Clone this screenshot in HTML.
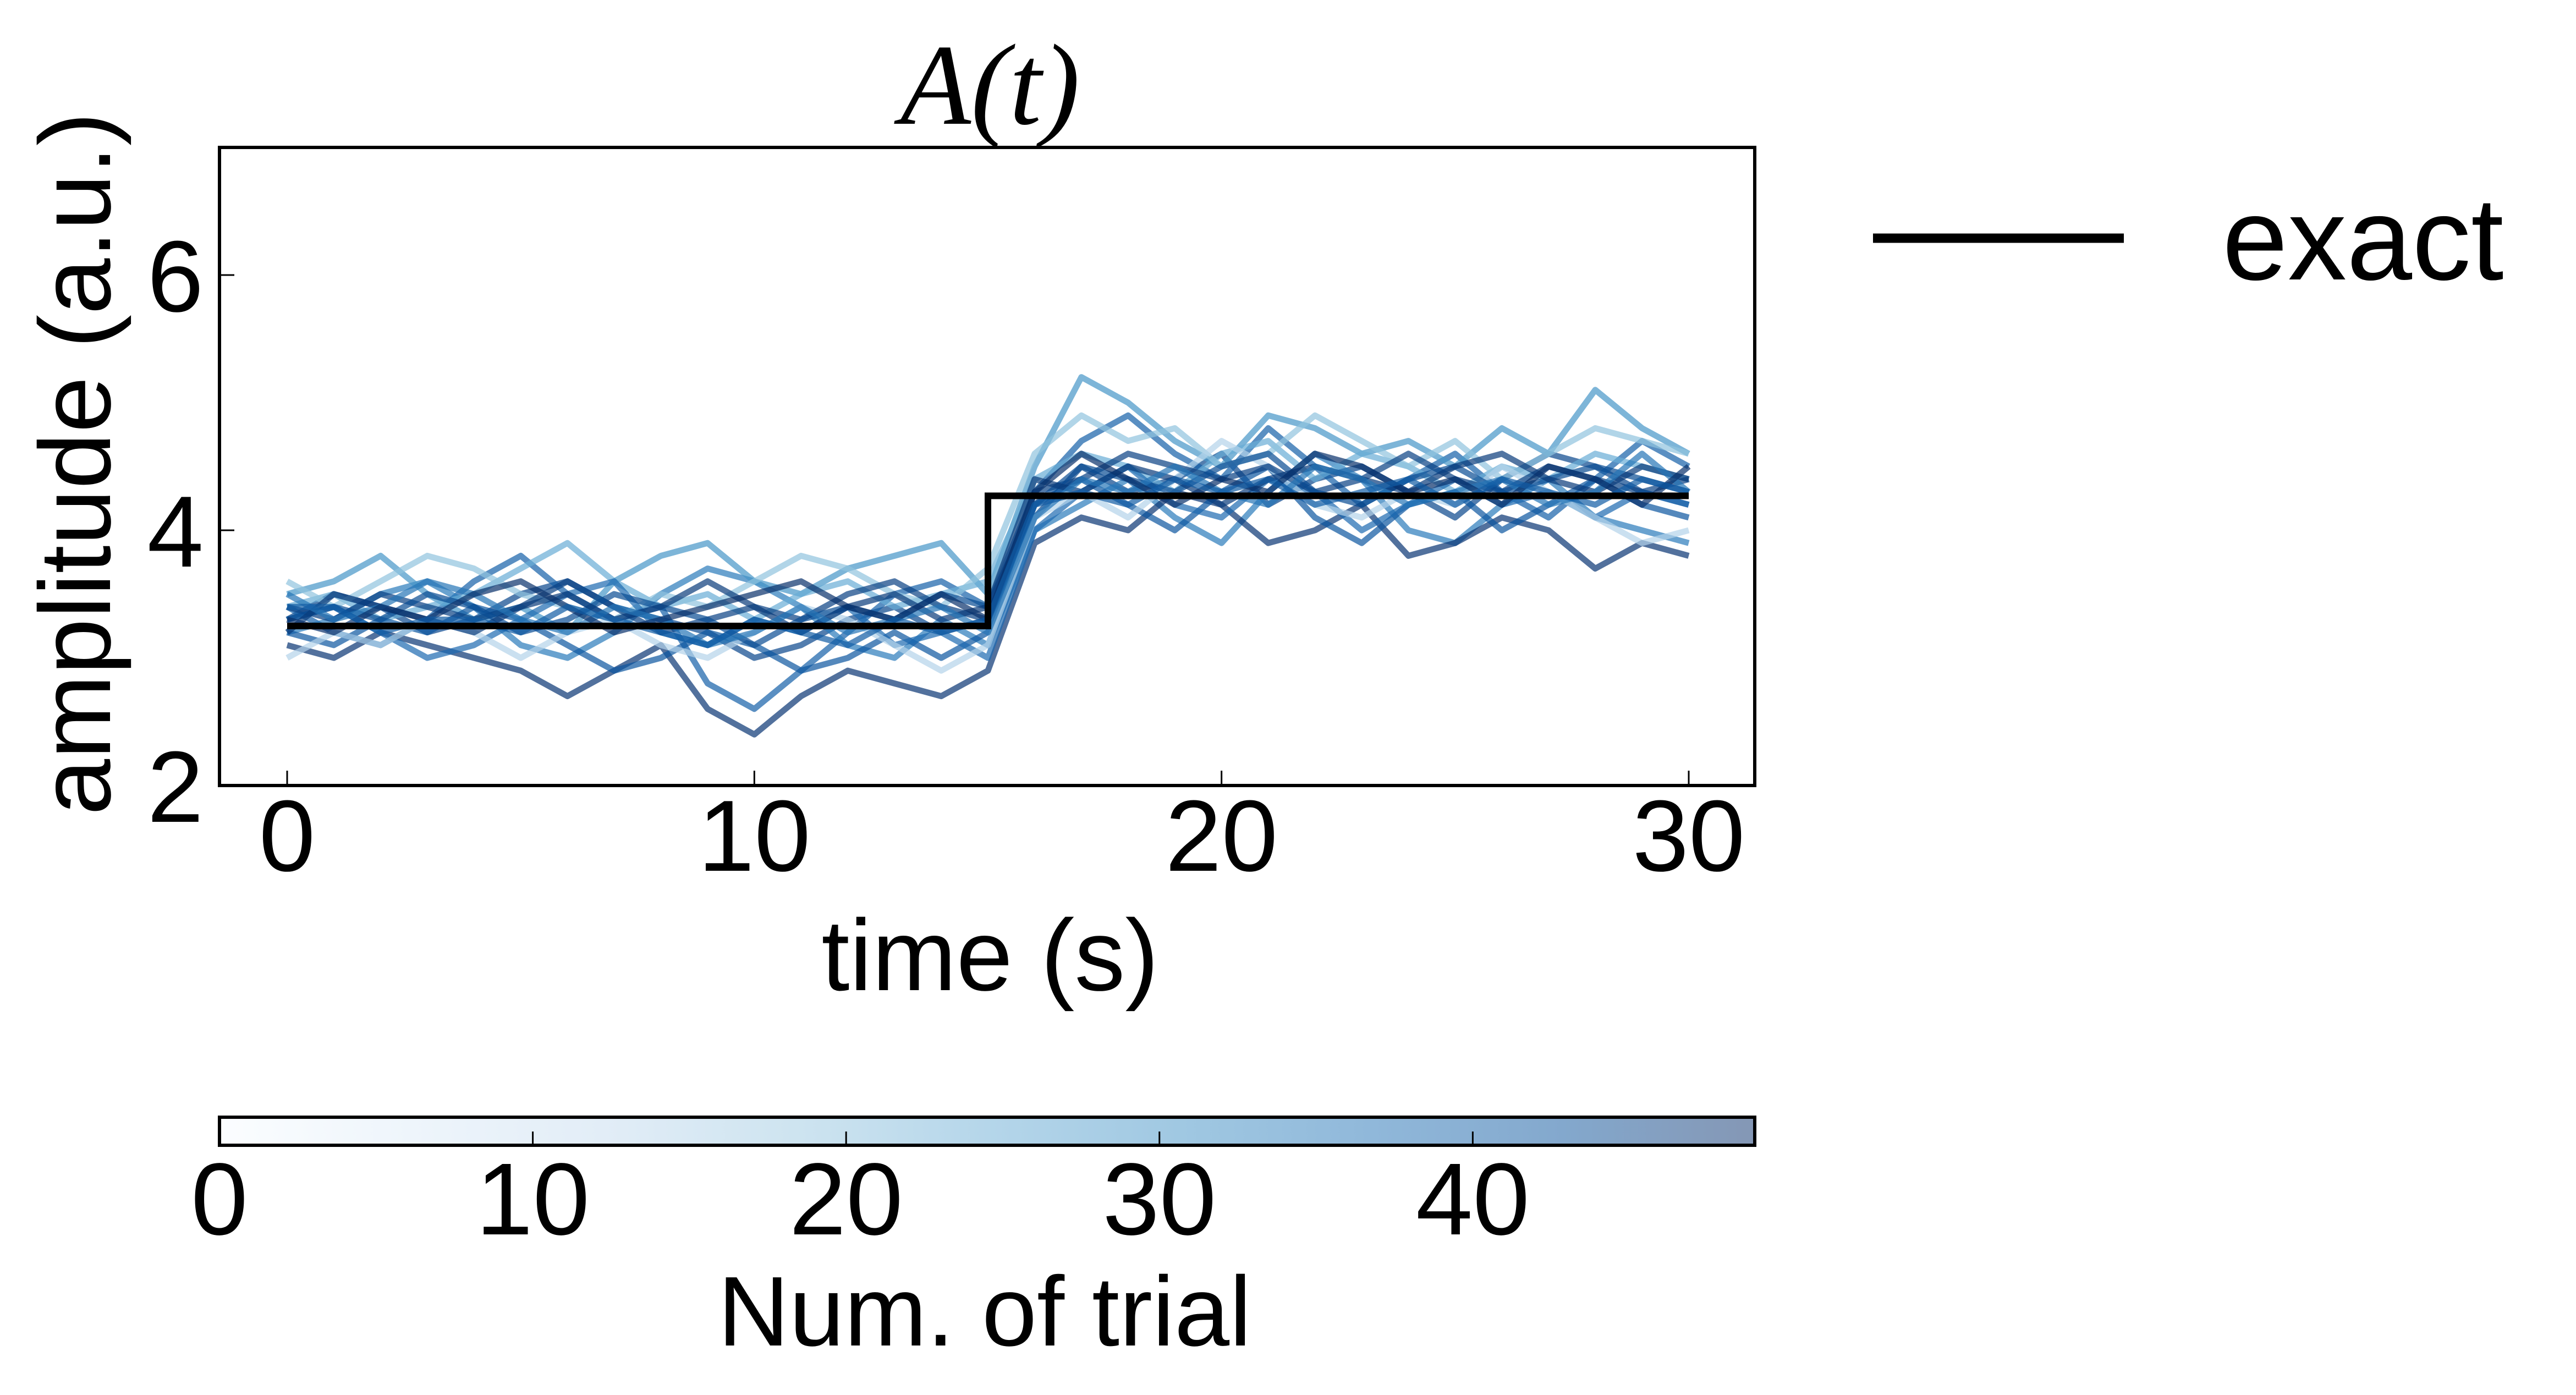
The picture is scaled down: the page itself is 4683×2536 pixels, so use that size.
<!DOCTYPE html>
<html><head><meta charset="utf-8"><style>
html,body{margin:0;padding:0;background:#fff;}
svg{display:block;}
text{font-family:"Liberation Sans",sans-serif;fill:#000;}
</style></head><body>
<svg id="chart" width="4683" height="2536" viewBox="0 0 4683 2536" xmlns="http://www.w3.org/2000/svg">
<defs>
<linearGradient id="cbg" x1="0" x2="1" y1="0" y2="0">
<stop offset="0" stop-color="#fbfdff"/><stop offset="0.125" stop-color="#eef5fb"/><stop offset="0.25" stop-color="#e2edf7"/>
<stop offset="0.375" stop-color="#cee4f0"/><stop offset="0.5" stop-color="#b5d6ea"/><stop offset="0.625" stop-color="#a0c8e2"/>
<stop offset="0.75" stop-color="#90b8da"/><stop offset="0.875" stop-color="#83a8cd"/><stop offset="1" stop-color="#8497b5"/>
</linearGradient>
<clipPath id="pc"><rect x="399" y="268" width="2791" height="1160"/></clipPath>
</defs>
<g id="traces" clip-path="url(#pc)"></g>
<g id="exact"></g>
<rect x="399" y="268" width="2791" height="1160" fill="none" stroke="#000" stroke-width="6"/>
<g id="axes"></g>
<text x="1800" y="225" text-anchor="middle" style="font-family:'Liberation Serif',serif;font-style:italic;font-size:210px">A(t)</text>
<text x="1800" y="1800" text-anchor="middle" font-size="184">time (s)</text>
<text transform="translate(200,843) rotate(-90)" text-anchor="middle" font-size="184">amplitude (a.u.)</text>
<g>
<line x1="3405" y1="433" x2="3861" y2="433" stroke="#000" stroke-width="17"/>
<text x="4040" y="508" font-size="214">exact</text>
</g>
<rect x="399" y="2031" width="2791" height="51" fill="url(#cbg)" stroke="#000" stroke-width="6"/>
<g id="cbaxis"></g>
<text x="1790" y="2446" text-anchor="middle" font-size="180">Num. of trial</text>
</svg>
<script>
const xTicks=[0,10,20,30];
const yTicks=[2,4,6];
const cbTicks=[0,10,20,30,40];
const cbMax=49;
const exactTimes=[0,15,15,30];
const exactValues=[3.25,3.25,4.27,4.27];
const trialIds=[45,40,35,30,48,25,42,20,38,15,46,44,47,36,49,41];
const tr0=[3.3,3.5,3.4,3.2,3.3,3.5,3.6,3.4,3.3,3.2,3.0,3.1,3.3,3.4,3.2,3.3,4.1,4.5,4.3,4.4,4.6,4.2,4.4,4.5,4.3,4.1,4.4,4.6,4.5,4.3,4.2];
const tr1=[3.4,3.2,3.1,3.3,3.6,3.8,3.5,3.3,3.4,2.8,2.6,2.9,3.2,3.5,3.6,3.4,4.3,4.7,4.9,4.6,4.4,4.8,4.5,4.2,4.4,4.6,4.3,4.1,4.4,4.7,4.5];
const tr2=[3.2,3.3,3.5,3.6,3.4,3.1,3.0,3.2,3.5,3.7,3.6,3.4,3.1,3.0,3.3,3.1,4.0,4.2,4.4,4.1,3.9,4.3,4.6,4.4,4.0,3.9,4.2,4.4,4.1,4.0,3.9];
const tr3=[3.5,3.6,3.8,3.5,3.3,3.4,3.2,3.6,3.8,3.9,3.6,3.5,3.7,3.8,3.9,3.5,4.5,5.2,5.0,4.7,4.5,4.9,4.8,4.6,4.7,4.5,4.8,4.6,5.1,4.8,4.6];
const tr4=[3.1,3.0,3.2,3.1,3.0,2.9,2.7,2.9,3.1,2.6,2.4,2.7,2.9,2.8,2.7,2.9,3.9,4.1,4.0,4.3,4.2,3.9,4.0,4.2,3.8,3.9,4.1,4.0,3.7,3.9,3.8];
const tr5=[3.4,3.5,3.3,3.4,3.5,3.7,3.9,3.6,3.4,3.5,3.3,3.5,3.6,3.4,3.5,3.6,4.4,4.6,4.5,4.3,4.6,4.7,4.4,4.6,4.5,4.3,4.5,4.4,4.6,4.5,4.4];
const tr6=[3.2,3.1,3.3,3.2,3.4,3.3,3.1,2.9,3.0,3.2,3.1,2.9,3.0,3.2,3.0,3.2,4.2,4.4,4.2,4.0,4.3,4.5,4.1,3.9,4.2,4.3,4.0,4.2,4.4,4.2,4.1];
const tr7=[3.6,3.4,3.6,3.8,3.7,3.5,3.4,3.3,3.5,3.4,3.6,3.8,3.7,3.5,3.4,3.7,4.6,4.9,4.7,4.8,4.5,4.6,4.9,4.7,4.5,4.7,4.4,4.6,4.8,4.7,4.6];
const tr8=[3.3,3.4,3.2,3.0,3.1,3.3,3.5,3.6,3.2,3.1,3.3,3.2,3.4,3.1,3.2,3.0,4.0,4.3,4.5,4.2,4.1,4.4,4.3,4.0,4.2,4.4,4.2,4.3,4.1,4.3,4.2];
const tr9=[3.0,3.2,3.1,3.3,3.2,3.0,3.2,3.3,3.1,3.0,3.2,3.4,3.3,3.1,2.9,3.1,4.1,4.3,4.1,4.4,4.7,4.5,4.2,4.1,4.3,4.2,4.5,4.3,4.1,3.9,4.0];
const tr10=[3.4,3.3,3.5,3.4,3.3,3.4,3.6,3.4,3.2,3.3,3.4,3.3,3.5,3.6,3.4,3.3,4.3,4.4,4.6,4.5,4.4,4.5,4.3,4.4,4.6,4.4,4.3,4.5,4.4,4.3,4.4];
const tr11=[3.3,3.4,3.3,3.5,3.4,3.2,3.3,3.5,3.4,3.3,3.1,3.3,3.4,3.3,3.5,3.4,4.2,4.5,4.4,4.3,4.5,4.6,4.3,4.2,4.4,4.5,4.3,4.4,4.5,4.4,4.3];
const tr12=[3.2,3.5,3.4,3.3,3.2,3.4,3.5,3.3,3.4,3.6,3.4,3.2,3.4,3.5,3.3,3.4,4.4,4.3,4.5,4.4,4.2,4.4,4.5,4.4,4.3,4.5,4.6,4.4,4.3,4.5,4.4];
const tr13=[3.5,3.3,3.4,3.6,3.5,3.3,3.2,3.4,3.3,3.1,3.2,3.4,3.2,3.3,3.4,3.2,4.1,4.4,4.3,4.5,4.3,4.2,4.5,4.4,4.2,4.3,4.4,4.2,4.3,4.6,4.3];
const tr14=[3.3,3.2,3.4,3.3,3.5,3.6,3.4,3.2,3.3,3.4,3.5,3.6,3.4,3.3,3.5,3.3,4.3,4.6,4.4,4.2,4.4,4.3,4.6,4.5,4.3,4.4,4.2,4.5,4.4,4.2,4.5];
const tr15=[3.4,3.4,3.2,3.3,3.3,3.2,3.4,3.3,3.2,3.1,3.3,3.2,3.1,3.3,3.2,3.3,4.2,4.3,4.2,4.4,4.3,4.4,4.2,4.3,4.4,4.2,4.4,4.3,4.2,4.4,4.3];
const traces=[tr0,tr1,tr2,tr3,tr4,tr5,tr6,tr7,tr8,tr9,tr10,tr11,tr12,tr13,tr14,tr15];

const NS="http://www.w3.org/2000/svg";
const X0=522,X1=3070,XL=0,XR=30;
const YB=1428,YT=268,YMIN=2,YMAX=7;
const xs=v=>X0+(v-XL)/(XR-XL)*(X1-X0);
const ys=v=>YB-(v-YMIN)/(YMAX-YMIN)*(YB-YT);
const CB0=399,CB1=3190;
const cbs=v=>CB0+v/cbMax*(CB1-CB0);
const blues=[[247,251,255],[222,235,247],[198,219,239],[158,202,225],[107,174,214],[66,146,198],[33,113,181],[8,81,156],[8,48,107]];
function blue(f){const p=f*8,i=Math.min(7,Math.floor(p)),t=p-i;const a=blues[i],b=blues[i+1];return 'rgb('+a.map((c,k)=>Math.round(c+(b[k]-c)*t)).join(',')+')';}
function mk(tag,attrs,parent){const e=document.createElementNS(NS,tag);for(const k in attrs)e.setAttribute(k,attrs[k]);parent.appendChild(e);return e;}

const tg=document.getElementById('traces');
traces.forEach((arr,j)=>{
  const d=arr.map((v,i)=>(i?'L':'M')+xs(i).toFixed(1)+','+ys(v).toFixed(1)).join(' ');
  const p=mk('path',{d:d,fill:'none',stroke:blue(trialIds[j]/cbMax),'stroke-width':11,'stroke-opacity':0.7,'stroke-linejoin':'round'},tg);
  
  
});
const eg=document.getElementById('exact');
const ed=exactTimes.map((t,i)=>(i?'L':'M')+xs(t)+','+ys(exactValues[i])).join(' ');
const ep=mk('path',{d:ed,fill:'none',stroke:'#000','stroke-width':12},eg);



const ax=document.getElementById('axes');
xTicks.forEach(v=>{
  const l=mk('line',{x1:xs(v),x2:xs(v),y1:YB,y2:YB-27,stroke:'#000','stroke-width':3},ax);
  
  
  const t=mk('text',{x:xs(v),y:1583,'text-anchor':'middle','font-size':184},ax);
  t.textContent=v;
  
  
});
yTicks.forEach(v=>{
  const l=mk('line',{x1:399,x2:426,y1:ys(v),y2:ys(v),stroke:'#000','stroke-width':3},ax);
  
  
  const t=mk('text',{x:370,y:ys(v)+66,'text-anchor':'end','font-size':184},ax);
  t.textContent=v;
  
  
});
const cg=document.getElementById('cbaxis');
cbTicks.forEach(v=>{
  if(v>0){const l=mk('line',{x1:cbs(v),x2:cbs(v),y1:2082,y2:2057,stroke:'#000','stroke-width':3},cg);
  
  }
  const t=mk('text',{x:cbs(v),y:2244,'text-anchor':'middle','font-size':186},cg);
  t.textContent=v;
  
  
});
</script>
</body></html>
